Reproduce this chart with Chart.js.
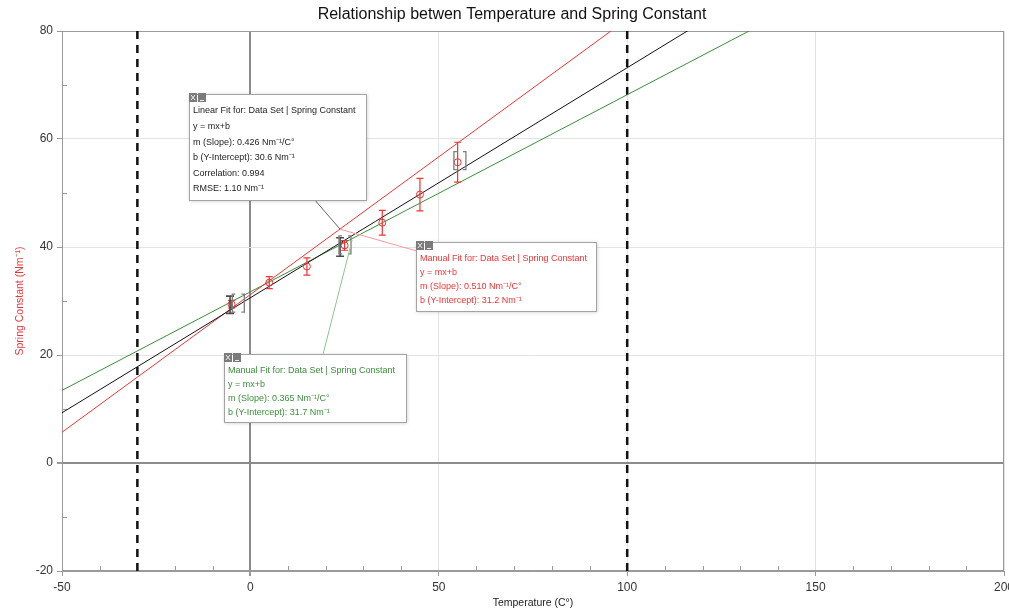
<!DOCTYPE html>
<html>
<head>
<meta charset="utf-8">
<title>Spring Constant vs Temperature</title>
<script src="https://cdn.jsdelivr.net/npm/chart.js@4.4.1/dist/chart.umd.min.js"></script>
<style>
  html, body { margin: 0; padding: 0; background: #fff; }
  #wrap { width: 1009px; height: 610px; position: relative; }
</style>
</head>
<body>
<div id="wrap"><canvas id="springChart"></canvas></div>
<script>
// === data ===
const temps = [-5, 5, 15, 25, 35, 45, 55];
const springK = [29.4, 33.4, 36.4, 40.3, 44.5, 49.7, 55.7];
const springErr = [0.7, 1.1, 1.6, 0.9, 2.3, 3.0, 3.7];

// dark grey bars of the selected points
const selTemps = [-5.4, 23.8];
const selK = [29.3, 40.0];
const selErr = [1.6, 1.7];

// grey [ ] handles of the manual fits
const handleTemps = [-3.2, 25.1, 55.6];
const handleK = [29.6, 40.4, 56.0];

// black = linear fit, red / green = manual fits
const fitSlopes = [0.426, 0.510, 0.365];
const fitIntercepts = [30.6, 31.2, 31.7];
const fitCorrelation = 0.994;
const fitRmse = 1.10;

const limitTemps = [-30, 100];

const xTicks = [-50, 0, 50, 100, 150, 200];
const yTicks = [-20, 0, 20, 40, 60, 80];

const chartTitle = 'Relationship betwen Temperature and Spring Constant';

const FONT = '"Liberation Sans", Helvetica, Arial, sans-serif';
const RED = '#ee3434';
const GREEN = '#3a8d3a';
const BLACK = '#111111';

const xMin = xTicks[0], xMax = xTicks[xTicks.length - 1];
const yMin = yTicks[0], yMax = yTicks[yTicks.length - 1];

const pts = (xs, ys) => xs.map((x, i) => ({ x: x, y: ys[i] }));

function fitLine(i) {
    return [
        { x: xMin, y: fitSlopes[i] * xMin + fitIntercepts[i] },
        { x: xMax, y: fitSlopes[i] * xMax + fitIntercepts[i] }
    ];
}

const fitText = (name, i) => [
    name + ' for: Data Set | Spring Constant',
    'y = mx+b',
    'm (Slope): ' + fitSlopes[i].toFixed(3) + ' Nm\u207B\u00B9/C\u00B0',
    'b (Y-Intercept): ' + fitIntercepts[i].toFixed(1) + ' Nm\u207B\u00B9'
];

// notes: anchor in data units, size in px
const notes = [
    { at: [-16.3, 68.3], w: 177, h: 106, rowH: 15.6, color: '#222',
      rows: fitText('Linear Fit', 0).concat(['Correlation: ' + fitCorrelation.toFixed(3), 'RMSE: ' + fitRmse.toFixed(2) + ' Nm\u207B\u00B9']) },
    { at: [43.95, 40.9], w: 180, h: 69, rowH: 14, color: RED, rows: fitText('Manual Fit', 1) },
    { at: [-7.0, 20.2], w: 182, h: 68, rowH: 14, color: GREEN, rows: fitText('Manual Fit', 2) }
];

const connectors = [
    { from: [17.1, 48.7], to: [23.8, 43.3], color: '#666' },
    { from: [23.8, 43.3], to: [43.95, 39.3], color: '#f39a9a' },
    { from: [27.0, 41.3], to: [19.3, 20.2], color: '#8cc48c' }
];

function toPx(chart, p) {
    return [chart.scales.x.getPixelForValue(p[0]), chart.scales.y.getPixelForValue(p[1])];
}

function drawNote(ctx, x, y, n) {
    ctx.save();
    ctx.shadowColor = 'rgba(0,0,0,0.22)';
    ctx.shadowBlur = 4; ctx.shadowOffsetX = 1; ctx.shadowOffsetY = 1;
    ctx.fillStyle = '#fff';
    ctx.fillRect(x, y, n.w, n.h);
    ctx.shadowColor = 'rgba(0,0,0,0)';
    ctx.strokeStyle = '#a3a3a3'; ctx.lineWidth = 1;
    ctx.strokeRect(x + 0.5, y + 0.5, n.w, n.h);

    // close / minimise buttons
    ctx.fillStyle = '#7b7b7b';
    ctx.fillRect(x, y - 1, 8, 9);
    ctx.fillRect(x + 9, y - 1, 8, 9);
    ctx.strokeStyle = '#eee'; ctx.lineWidth = 1;
    ctx.beginPath();
    ctx.moveTo(x + 2, y + 1); ctx.lineTo(x + 6, y + 6);
    ctx.moveTo(x + 6, y + 1); ctx.lineTo(x + 2, y + 6);
    ctx.moveTo(x + 11, y + 6.5); ctx.lineTo(x + 15, y + 6.5);
    ctx.stroke();

    ctx.fillStyle = n.color;
    ctx.font = '9px ' + FONT;
    ctx.textBaseline = 'middle';
    n.rows.forEach((r, i) => ctx.fillText(r, x + 4, y + 17 + i * n.rowH));
    ctx.restore();
}

const extras = {
    id: 'extras',
    beforeDatasetsDraw(chart) {
        const { ctx, chartArea: a, scales } = chart;
        ctx.save();
        ctx.strokeStyle = '#9a9a9a'; ctx.lineWidth = 1;
        ctx.strokeRect(a.left + 0.5, a.top + 0.5, a.right - a.left - 1, a.bottom - a.top - 1);
        // minor ticks point inward
        ctx.beginPath();
        scales.x.ticks.forEach(t => {
            if (xTicks.includes(t.value)) return;
            const p = Math.round(scales.x.getPixelForValue(t.value)) + 0.5;
            ctx.moveTo(p, a.bottom); ctx.lineTo(p, a.bottom - 5);
        });
        scales.y.ticks.forEach(t => {
            if (yTicks.includes(t.value)) return;
            const p = Math.round(scales.y.getPixelForValue(t.value)) + 0.5;
            ctx.moveTo(a.left, p); ctx.lineTo(a.left + 5, p);
        });
        ctx.stroke();
        ctx.restore();
    },
    afterDatasetsDraw(chart) {
        const { ctx, scales } = chart;
        ctx.save();
        chart.data.datasets.forEach(ds => {
            if (!ds.errorBars) return;
            ctx.strokeStyle = ds.errColor; ctx.lineWidth = ds.errWidth || 1.2;
            ctx.beginPath();
            ds.data.forEach((p, i) => {
                const cx = scales.x.getPixelForValue(p.x);
                const y1 = scales.y.getPixelForValue(p.y - ds.errorBars[i]);
                const y2 = scales.y.getPixelForValue(p.y + ds.errorBars[i]);
                const c = ds.capHalf || 3.5;
                ctx.moveTo(cx, y1); ctx.lineTo(cx, y2);
                ctx.moveTo(cx - c, y1); ctx.lineTo(cx + c, y1);
                ctx.moveTo(cx - c, y2); ctx.lineTo(cx + c, y2);
            });
            ctx.stroke();
        });
        // [ ] handles
        ctx.strokeStyle = '#7d7d7d'; ctx.lineWidth = 1.3;
        ctx.beginPath();
        handleTemps.forEach((t, i) => {
            const cx = scales.x.getPixelForValue(t), cy = scales.y.getPixelForValue(handleK[i]);
            ctx.moveTo(cx - 3, cy - 9); ctx.lineTo(cx - 6, cy - 9); ctx.lineTo(cx - 6, cy + 9); ctx.lineTo(cx - 3, cy + 9);
            ctx.moveTo(cx + 3, cy - 9); ctx.lineTo(cx + 6, cy - 9); ctx.lineTo(cx + 6, cy + 9); ctx.lineTo(cx + 3, cy + 9);
        });
        ctx.stroke();
        ctx.restore();
    },
    afterDraw(chart) {
        const ctx = chart.ctx;
        const a = chart.chartArea;
        ctx.save();
        // title, centred over the plot area like the original
        ctx.fillStyle = '#111';
        ctx.font = '16px ' + FONT;
        ctx.textAlign = 'center';
        ctx.textBaseline = 'middle';
        ctx.fillText(chartTitle, (a.left + a.right) / 2 - 21, 15);
        ctx.textAlign = 'left';

        ctx.lineWidth = 1;
        connectors.forEach(c => {
            const p = toPx(chart, c.from), q = toPx(chart, c.to);
            ctx.strokeStyle = c.color;
            ctx.beginPath(); ctx.moveTo(p[0], p[1]); ctx.lineTo(q[0], q[1]); ctx.stroke();
        });
        ctx.restore();
        notes.forEach(n => {
            const p = toPx(chart, n.at);
            drawNote(ctx, Math.round(p[0]), Math.round(p[1]), n);
        });
    }
};

const fitColors = [BLACK, RED, GREEN];
const datasets = [
    { label: 'Spring Constant', data: pts(temps, springK), errorBars: springErr, errColor: RED,
      pointStyle: 'circle', pointRadius: 3.5, borderColor: RED, backgroundColor: 'rgba(0,0,0,0)',
      borderWidth: 1, order: 0 },
    { label: 'Selected', data: pts(selTemps, selK), errorBars: selErr, errColor: '#4a4a4a', errWidth: 1.6,
      capHalf: 4, pointRadius: 0, order: 1 }
];
fitSlopes.forEach((m, i) => datasets.push({
    label: 'Fit ' + i, data: fitLine(i), showLine: true, borderColor: fitColors[i],
    borderWidth: 1, pointRadius: 0, order: 2
}));
limitTemps.forEach(t => datasets.push({
    label: 'Limit ' + t, data: [{ x: t, y: yMin }, { x: t, y: yMax }], showLine: true,
    borderColor: BLACK, borderWidth: 2.5, borderDash: [8, 6], pointRadius: 0, order: 3
}));

new Chart(document.getElementById('springChart'), {
    type: 'scatter',
    data: { datasets: datasets },
    plugins: [extras],
    options: {
        responsive: true,
        maintainAspectRatio: false,
        animation: false,
        events: [],
        layout: { padding: { top: 31, right: 5 } },
        plugins: {
            legend: { display: false },
            tooltip: { enabled: false },
            title: { display: false }
        },
        scales: {
            x: {
                type: 'linear', min: xMin, max: xMax,
                afterFit(s) { s.height = 39; s.paddingLeft = 0; s.paddingRight = 0; },
                ticks: {
                    stepSize: 10, autoSkip: false, maxRotation: 0, padding: 4,
                    color: '#333', font: { family: FONT, size: 12 },
                    callback: v => xTicks.includes(v) ? v : ''
                },
                grid: {
                    color: c => c.tick.value === 0 ? '#8c8c8c' : (xTicks.includes(c.tick.value) ? '#e3e3e3' : 'rgba(0,0,0,0)'),
                    lineWidth: c => c.tick.value === 0 ? 2 : 1,
                    tickLength: 5,
                    tickColor: c => xTicks.includes(c.tick.value) ? '#9a9a9a' : 'rgba(0,0,0,0)'
                },
                border: { color: '#9a9a9a' },
                title: {
                    display: true, text: 'Temperature (C\u00B0)', color: '#222',
                    font: { family: FONT, size: 10.5 }, padding: { top: 0, bottom: 1 }
                }
            },
            y: {
                type: 'linear', min: yMin, max: yMax,
                afterFit(s) { s.width = 62; s.paddingTop = 0; s.paddingBottom = 0; },
                ticks: {
                    stepSize: 10, autoSkip: false, padding: 4,
                    color: '#333', font: { family: FONT, size: 12 },
                    callback: v => yTicks.includes(v) ? v : ''
                },
                grid: {
                    color: c => c.tick.value === 0 ? '#8c8c8c' : (yTicks.includes(c.tick.value) ? '#e3e3e3' : 'rgba(0,0,0,0)'),
                    lineWidth: c => c.tick.value === 0 ? 2 : 1,
                    tickLength: 5,
                    tickColor: c => yTicks.includes(c.tick.value) ? '#9a9a9a' : 'rgba(0,0,0,0)'
                },
                border: { color: '#9a9a9a' },
                title: {
                    display: true, text: 'Spring Constant (Nm\u207B\u00B9)', color: '#e8363f',
                    font: { family: FONT, size: 10.5 }, padding: { top: 14, bottom: 0 }
                }
            }
        }
    }
});
</script>
</body>
</html>
